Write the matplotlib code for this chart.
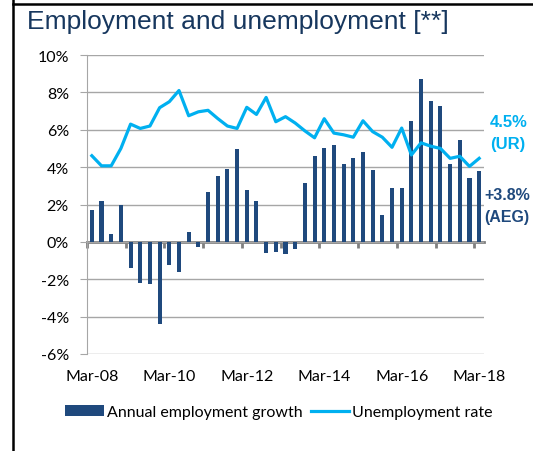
import numpy as np
import matplotlib
matplotlib.use("Agg")
import matplotlib.pyplot as plt
from matplotlib.lines import Line2D

# quarterly, Mar-08 .. Mar-18
quarters = ["Mar-08", "Jun-08", "Sep-08", "Dec-08", "Mar-09", "Jun-09", "Sep-09", "Dec-09",
            "Mar-10", "Jun-10", "Sep-10", "Dec-10", "Mar-11", "Jun-11", "Sep-11", "Dec-11",
            "Mar-12", "Jun-12", "Sep-12", "Dec-12", "Mar-13", "Jun-13", "Sep-13", "Dec-13",
            "Mar-14", "Jun-14", "Sep-14", "Dec-14", "Mar-15", "Jun-15", "Sep-15", "Dec-15",
            "Mar-16", "Jun-16", "Sep-16", "Dec-16", "Mar-17", "Jun-17", "Sep-17", "Dec-17",
            "Mar-18"]
emp_growth = [1.70, 2.18, 0.41, 2.00, -1.38, -2.21, -2.27, -4.38, -1.23, -1.61,
              0.54, -0.27, 2.68, 3.54, 3.89, 4.95, 2.77, 2.20, -0.59, -0.54,
              -0.66, -0.38, 3.14, 4.60, 5.00, 5.20, 4.15, 4.50, 4.80, 3.84,
              1.45, 2.89, 2.89, 6.46, 8.72, 7.56, 7.29, 4.18, 5.46, 3.41, 3.77]
unemp_rate = [4.61, 4.07, 4.07, 5.00, 6.30, 6.07, 6.20, 7.18, 7.50, 8.10,
              6.75, 6.96, 7.04, 6.60, 6.20, 6.07, 7.20, 6.82, 7.73, 6.43,
              6.70, 6.36, 5.94, 5.57, 6.59, 5.82, 5.73, 5.60, 6.48, 5.90,
              5.60, 5.06, 6.09, 4.65, 5.30, 5.12, 5.00, 4.47, 4.58, 4.04, 4.47]
yticks = [-6, -4, -2, 0, 2, 4, 6, 8, 10]

dark_blue = "#1F497D"
light_blue = "#00B0F0"
grey = "#A6A6A6"

fig = plt.figure(figsize=(5.33, 4.52), dpi=100)
ax = fig.add_axes([87 / 533, 1 - 355 / 452, 397 / 533, 299 / 452])

x = np.arange(len(quarters))
bars = ax.bar(x, emp_growth, width=0.42, color=dark_blue, zorder=3, label="Annual employment growth")
line, = ax.plot(x, unemp_rate, color=light_blue, lw=2.3, zorder=4, label="Unemployment rate")

ax.set_xlim(-0.5, len(quarters) - 0.5)
ax.set_ylim(-6, 10)
ax.set_yticks(yticks)
ax.set_yticklabels([f"{t}%" for t in yticks], fontfamily="Lato", fontsize=11.5)
ax.yaxis.grid(True, color=grey, lw=1, zorder=0)

lab_idx = list(range(0, len(quarters), 8))
ax.set_xticks(lab_idx)
ax.set_xticklabels([quarters[i] for i in lab_idx], fontfamily="Lato", fontsize=11.5)
ax.tick_params(axis="x", length=0, pad=11)
ax.tick_params(axis="y", length=5, color=grey, pad=8)

for s in ["top", "right", "bottom"]:
    ax.spines[s].set_visible(False)
ax.spines["left"].set_color(grey)

# category axis drawn at zero
zero = ax.secondary_xaxis((0 - (-6)) / 16)
zero.set_xticks(np.arange(-0.5, len(quarters) - 1, 4))
zero.set_xticklabels([])
zero.tick_params(axis="x", length=4, width=2, color="#808080", direction="out")
zero.spines["bottom"].set_color("#808080")
zero.spines["bottom"].set_linewidth(2)
zero.spines["bottom"].set_zorder(5)

fig.text(27 / 533, 1 - 29 / 452, "Employment and unemployment [**]",
         fontfamily="Liberation Sans", fontsize=19, color="#17375E", va="baseline")

fig.text(490 / 533, 1 - 123 / 452, "4.5%", fontfamily="Liberation Sans", fontsize=12,
         fontweight="bold", color=light_blue, va="center")
fig.text(490 / 533, 1 - 144 / 452, "(UR)", fontfamily="Liberation Sans", fontsize=12,
         fontweight="bold", color=light_blue, va="center")
fig.text(484 / 533, 1 - 196 / 452, "+3.8%", fontfamily="Liberation Sans", fontsize=11.5,
         fontweight="bold", color=dark_blue, va="center")
fig.text(484 / 533, 1 - 218 / 452, "(AEG)", fontfamily="Liberation Sans", fontsize=11.5,
         fontweight="bold", color=dark_blue, va="center")

leg = fig.legend([bars, line], ["Annual employment growth", "Unemployment rate"],
                 loc="center", bbox_to_anchor=(279 / 533, 1 - 413 / 452), ncol=2,
                 frameon=False, prop={"family": "Lato", "size": 11.5},
                 handlelength=2.4, handletextpad=0.2, columnspacing=0.5)

# frame lines of the slide
fig.add_artist(Line2D([13 / 533, 13 / 533], [0, 1], color="black", lw=1.8))
fig.add_artist(Line2D([13 / 533, 1], [1 - 5 / 452, 1 - 5 / 452], color="black", lw=1.8))

fig.savefig("out.png", dpi=100)
